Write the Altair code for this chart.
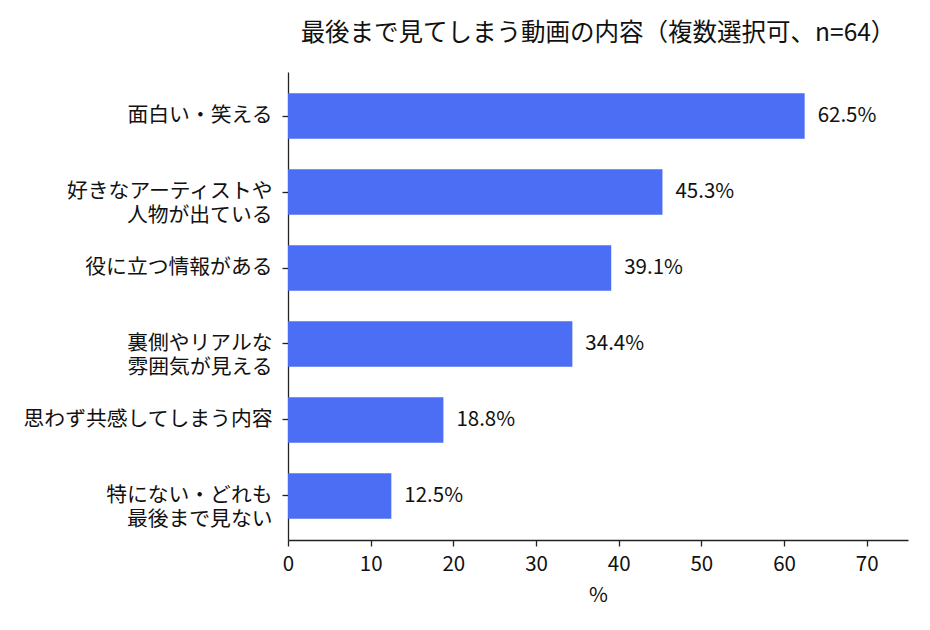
import altair as alt
import pandas as pd

# ラベルとパーセント値（n=64）
categories = [
    "面白い・笑える",
    "好きなアーティストや\n人物が出ている",
    "役に立つ情報がある",
    "裏側やリアルな\n雰囲気が見える",
    "思わず共感してしまう内容",
    "特にない・どれも\n最後まで見ない",
]
percents = [62.5, 45.3, 39.1, 34.4, 18.8, 12.5]
x_ticks = [0, 10, 20, 30, 40, 50, 60, 70]

df = pd.DataFrame({"category": categories, "pct": percents})

FONT = "Noto Sans CJK JP"
BAR_COLOR = "#4c6ef5"
AXIS_COLOR = "#222222"
FS = 20.5

y_enc = alt.Y(
    "category:N",
    sort=None,
    title=None,
    scale=alt.Scale(paddingInner=0.4, paddingOuter=0.28),
    axis=alt.Axis(
        labelExpr="split(datum.label, '\\n')",
        labelFontSize=20.8,
        labelLineHeight=24,
        labelPadding=10,
        labelLimit=400,
        labelColor="#111111",
        tickSize=6,
        ticks=True,
        domainColor=AXIS_COLOR,
        tickColor=AXIS_COLOR,
        domainWidth=1.3,
        tickWidth=1.3,
        grid=False,
    ),
)

x_enc = alt.X(
    "pct:Q",
    title="%",
    scale=alt.Scale(domain=[0, 75], nice=False),
    axis=alt.Axis(
        values=x_ticks,
        labelFontSize=FS,
        labelFlush=False,
        titleFontSize=FS,
        titleFontWeight="normal",
        titlePadding=11,
        labelPadding=8,
        labelColor="#111111",
        titleColor="#111111",
        tickSize=6,
        domainColor=AXIS_COLOR,
        tickColor=AXIS_COLOR,
        domainWidth=1.3,
        tickWidth=1.3,
        grid=False,
    ),
)

bars = alt.Chart(df).mark_bar(color=BAR_COLOR).encode(x=x_enc, y=y_enc)

labels = alt.Chart(df).transform_calculate(
    txt="format(datum.pct, '.1f') + '%'"
).mark_text(
    align="left", baseline="middle", dx=13, fontSize=FS, font=FONT, color="#111111"
).encode(
    x="pct:Q",
    y=alt.Y("category:N", sort=None),
    text="txt:N",
)

chart = (bars + labels).properties(
    width=620,
    height=468,
    title=alt.TitleParams(
        "最後まで見てしまう動画の内容（複数選択可、n=64）",
        fontSize=24.5,
        fontWeight="normal",
        font=FONT,
        anchor="middle",
        baseline="bottom",
        offset=2,
        color="#111111",
    ),
    autosize=alt.AutoSizeParams(type="none"),
    padding={"left": 280, "top": 64, "right": 14, "bottom": 80},
).configure(
    font=FONT,
).configure_view(
    stroke=None
).configure_axis(
    labelFont=FONT,
    titleFont=FONT,
)

chart.save("out.html", embed_options={"renderer": "svg", "actions": False})
